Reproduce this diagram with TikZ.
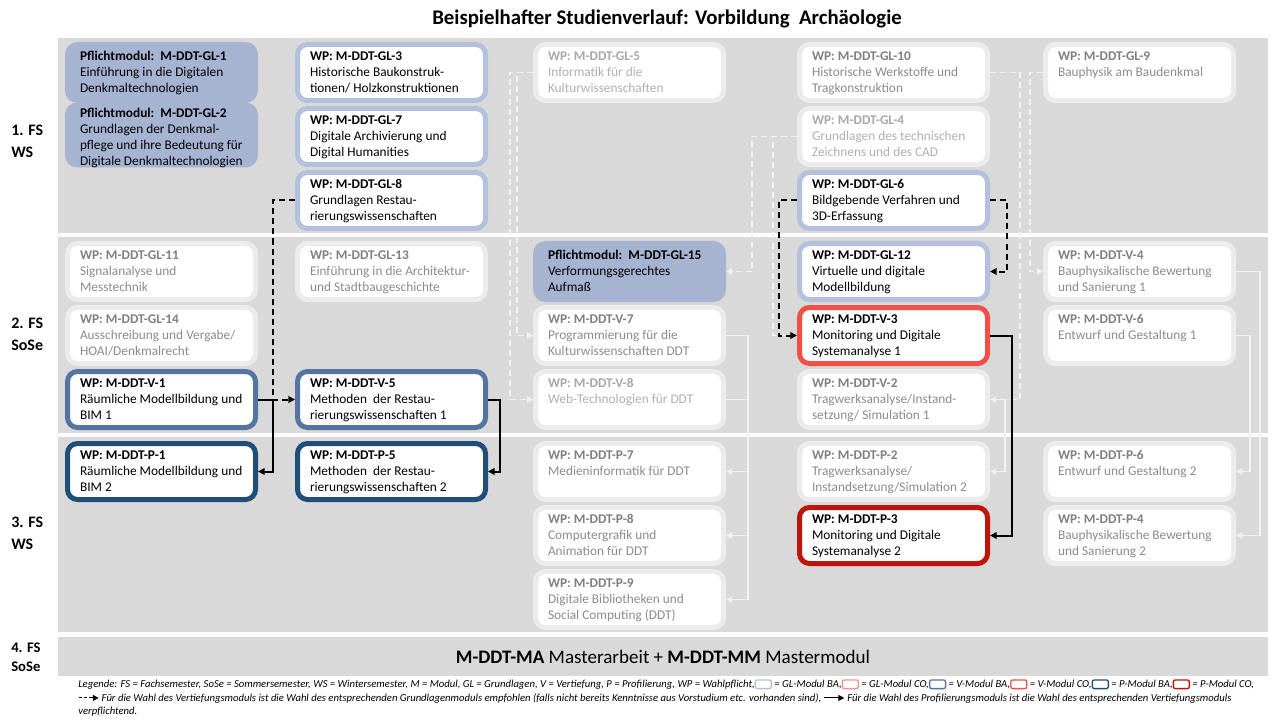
\documentclass[tikz,border=0pt]{standalone}
\usepackage{fontspec}
\setmainfont{Carlito}
\usetikzlibrary{arrows.meta}
\definecolor{bandc}{RGB}{217,217,217}
\definecolor{pflc}{RGB}{166,180,210}
\definecolor{glbac}{RGB}{180,193,220}
\definecolor{glcoc}{RGB}{242,150,140}
\definecolor{vbac}{RGB}{84,116,162}
\definecolor{vcoc}{RGB}{240,80,70}
\definecolor{pbac}{RGB}{31,78,121}
\definecolor{pcoc}{RGB}{190,20,10}
\definecolor{ringc}{RGB}{236,236,236}
\definecolor{fadetitle}{RGB}{128,128,128}
\definecolor{fadebody}{RGB}{140,140,140}
\definecolor{fadeltitle}{RGB}{168,168,168}
\definecolor{fadelbody}{RGB}{176,176,176}
\definecolor{lightc}{RGB}{242,242,242}
\newcommand\mtx[2]{\parbox[c][32.7pt][t]{142.5pt}{\raggedright\rule{0pt}{7.3pt}\textcolor{titlecol}{\textbf{#1}}\\#2}\kern-20.25pt}
\newcommand\mtxfour[2]{\parbox[c][41pt][t]{142.5pt}{\raggedright\rule{0pt}{7.3pt}\textcolor{titlecol}{\textbf{#1}}\\#2}\kern-20.25pt}
\newcommand\legbox[1]{\tikz[baseline=0pt]\draw[#1,line width=1pt,fill=white,rounded corners=1.5pt] (0pt,-0.5pt) rectangle (12pt,6pt);}
\newcommand\legdash{\tikz[baseline=0pt]\draw[line width=0.8pt,dash pattern=on 2.5pt off 1.5pt,-{Triangle[length=4.5pt,width=4.5pt]}] (0pt,2.5pt) -- (15pt,2.5pt);}
\newcommand\legsolid{\tikz[baseline=0pt]\draw[line width=0.8pt,-{Triangle[length=4.5pt,width=4.5pt]}] (0pt,2.5pt) -- (15pt,2.5pt);}
\tikzset{
  mod/.style={rounded corners=7.5pt, line width=3.75pt, minimum width=141pt, minimum height=42pt, inner sep=0pt},
  boxfont/.style={font={\colorlet{titlecol}{black}\fontsize{10pt}{12pt}\selectfont}},
  pfl/.style={mod, draw=pflc, fill=pflc, boxfont, text=black},
  glba/.style={mod, draw=glbac, fill=white, boxfont, text=black},
  vba/.style={mod, draw=vbac, fill=white, boxfont, text=black},
  vco/.style={mod, draw=vcoc, fill=white, boxfont, text=black},
  pba/.style={mod, draw=pbac, fill=white, boxfont, text=black},
  pco/.style={mod, draw=pcoc, fill=white, boxfont, text=black},
  fade/.style={mod, draw=ringc, fill=white, text=fadebody, font={\colorlet{titlecol}{fadetitle}\fontsize{10pt}{12pt}\selectfont}},
  fadel/.style={mod, draw=ringc, fill=white, text=fadelbody, font={\colorlet{titlecol}{fadeltitle}\fontsize{10pt}{12pt}\selectfont}},
  bdash/.style={black, line width=1.5pt, dash pattern=on 4.5pt off 3pt, -{Triangle[length=5pt,width=5pt]}},
  bsolid/.style={black, line width=1.5pt, -{Triangle[length=5pt,width=5pt]}},
  ldash/.style={lightc, line width=1.2pt, dash pattern=on 4.5pt off 3pt, -{Triangle[length=4.5pt,width=4.5pt]}},
  lsolid/.style={lightc, line width=1.2pt, -{Triangle[length=4.5pt,width=4.5pt]}},
  sem/.style={anchor=west, align=left, font=\fontsize{12pt}{16.5pt}\selectfont\bfseries, inner sep=0pt},
}
\begin{document}
\begin{tikzpicture}[x=0.75pt,y=-0.75pt]
\useasboundingbox (0,0) rectangle (1280,720);
\fill[white] (0,0) rectangle (1280,720);
% bands
\fill[bandc] (58,38) rectangle (1268,233);
\fill[bandc] (58,237) rectangle (1268,433);
\fill[bandc] (58,437) rectangle (1268,632);
\fill[bandc] (58,637) rectangle (1268,676);
% title
\node[font=\fontsize{15.6pt}{18pt}\selectfont\bfseries] (title) at (667,19) {Beispielhafter Studienverlauf: Vorbildung\ \ Archäologie};
% semester labels
\node[sem] (s1) at (11,141) {1. FS\\WS};
\node[sem] (s2) at (11,334) {2. FS\\SoSe};
\node[sem] (s3) at (11,533) {3. FS\\WS};
\node[sem, font=\fontsize{11pt}{14pt}\selectfont\bfseries] (s4) at (11,657) {4. FS\\SoSe};
% band 1
\node[pfl] (gl1) at (161.5,72.5) {\mtx{Pflichtmodul:\ \ M-DDT-GL-1}{Einführung in die Digitalen\\Denkmaltechnologien}};
\node[pfl, minimum height=45pt] (gl2) at (161.5,135) {\mtxfour{Pflichtmodul:\ \ M-DDT-GL-2}{Grundlagen der Denkmal-\\pflege und ihre Bedeutung für\\Digitale Denkmaltechnologien}};
\node[glba] (gl3) at (391.5,72.5) {\mtx{WP: M-DDT-GL-3}{Historische Baukonstruk-\\tionen/ Holzkonstruktionen}};
\node[glba] (gl7) at (391.5,136.5) {\mtx{WP: M-DDT-GL-7}{Digitale Archivierung und\\Digital Humanities}};
\node[glba] (gl8) at (391.5,200.5) {\mtx{WP: M-DDT-GL-8}{Grundlagen Restau-\\rierungswissenschaften}};
\node[fadel] (gl5) at (629.5,72.5) {\mtx{WP: M-DDT-GL-5}{Informatik für die\\Kulturwissenschaften}};
\node[fade] (gl10) at (893.5,72.5) {\mtx{WP: M-DDT-GL-10}{Historische Werkstoffe und\\Tragkonstruktion}};
\node[fadel] (gl4) at (893.5,136.5) {\mtx{WP: M-DDT-GL-4}{Grundlagen des technischen\\Zeichnens und des CAD}};
\node[glba] (gl6) at (893.5,200.5) {\mtx{WP: M-DDT-GL-6}{Bildgebende Verfahren und\\3D-Erfassung}};
\node[fade] (gl9) at (1139.5,72.5) {\mtx{WP: M-DDT-GL-9}{Bauphysik am Baudenkmal}};
% band 2
\node[fade] (gl11) at (161.5,271.5) {\mtx{WP: M-DDT-GL-11}{Signalanalyse und\\Messtechnik}};
\node[fade] (gl14) at (161.5,335.5) {\mtx{WP: M-DDT-GL-14}{Ausschreibung und Vergabe/\\HOAI/Denkmalrecht}};
\node[vba] (v1) at (161.5,399.5) {\mtx{WP: M-DDT-V-1}{Räumliche Modellbildung und\\BIM 1}};
\node[fade] (gl13) at (391.5,271.5) {\mtx{WP: M-DDT-GL-13}{Einführung in die Architektur-\\und Stadtbaugeschichte}};
\node[vba] (v5) at (391.5,399.5) {\mtx{WP: M-DDT-V-5}{Methoden\ \ der Restau-\\rierungswissenschaften 1}};
\node[pfl] (gl15) at (629.5,271.5) {\mtx{Pflichtmodul:\ \ M-DDT-GL-15}{Verformungsgerechtes\\Aufmaß}};
\node[fade] (v7) at (629.5,335.5) {\mtx{WP: M-DDT-V-7}{Programmierung für die\\Kulturwissenschaften DDT}};
\node[fadel] (v8) at (629.5,399.5) {\mtx{WP: M-DDT-V-8}{Web-Technologien für DDT}};
\node[glba] (gl12) at (893.5,271.5) {\mtx{WP: M-DDT-GL-12}{Virtuelle und digitale\\Modellbildung}};
\node[vco] (v3) at (893.5,335.5) {\mtx{WP: M-DDT-V-3}{Monitoring und Digitale\\Systemanalyse 1}};
\node[fade] (v2) at (893.5,399.5) {\mtx{WP: M-DDT-V-2}{Tragwerksanalyse/Instand-\\setzung/ Simulation 1}};
\node[fade] (v4) at (1139.5,271.5) {\mtx{WP: M-DDT-V-4}{Bauphysikalische Bewertung\\und Sanierung 1}};
\node[fade] (v6) at (1139.5,335.5) {\mtx{WP: M-DDT-V-6}{Entwurf und Gestaltung 1}};
% band 3
\node[pba] (p1) at (161.5,471.5) {\mtx{WP: M-DDT-P-1}{Räumliche Modellbildung und\\BIM 2}};
\node[pba] (p5) at (391.5,471.5) {\mtx{WP: M-DDT-P-5}{Methoden\ \ der Restau-\\rierungswissenschaften 2}};
\node[fade] (p7) at (629.5,471.5) {\mtx{WP: M-DDT-P-7}{Medieninformatik für DDT}};
\node[fade] (p8) at (629.5,535.5) {\mtx{WP: M-DDT-P-8}{Computergrafik und\\Animation für DDT}};
\node[fade] (p9) at (629.5,599.5) {\mtx{WP: M-DDT-P-9}{Digitale Bibliotheken und\\Social Computing (DDT)}};
\node[fade] (p2) at (893.5,471.5) {\mtx{WP: M-DDT-P-2}{Tragwerksanalyse/\\Instandsetzung/Simulation 2}};
\node[pco] (p3) at (893.5,535.5) {\mtx{WP: M-DDT-P-3}{Monitoring und Digitale\\Systemanalyse 2}};
\node[fade] (p6) at (1139.5,471.5) {\mtx{WP: M-DDT-P-6}{Entwurf und Gestaltung 2}};
\node[fade] (p4) at (1139.5,535.5) {\mtx{WP: M-DDT-P-4}{Bauphysikalische Bewertung\\und Sanierung 2}};
% band 4
\node[font=\fontsize{14.3pt}{17pt}\selectfont] (ma) at (663,657) {\textbf{M-DDT-MA} Masterarbeit + \textbf{M-DDT-MM} Mastermodul};
% light connectors
\draw[ldash] (gl5.west) -- ++(-16,0) |- (v7.west);
\draw[ldash] (gl5.west) -- ++(-23,0) |- (v8.west);
\draw[ldash] (gl4.west) -- ++(-45,0) |- (gl15.east);
\draw[ldash] (gl4.west) -- ++(-24,0) |- (v3.west);
\draw[ldash] (gl10.east) -- ++(30,0) |- (v2.east);
\draw[ldash] (gl9.west) -- ++(-13,0) |- (v4.west);
\draw[lsolid] (v7.east) -- ++(22,0) |- (p7.east);
\draw[lsolid] (v7.east) -- ++(22,0) |- (p8.east);
\draw[lsolid] (v7.east) -- ++(22,0) |- (p9.east);
\draw[lsolid] (v8.east) -- ++(22,0) |- (p8.east);
\draw[lsolid] (v2.east) -- ++(15,0) |- (p2.east);
\draw[lsolid] (v6.east) -- ++(14,0) |- (p6.east);
\draw[lsolid] (v4.east) -- ++(24,0) |- (p4.east);
% black connectors
\draw[bdash] (gl8.west) -- ++(-22,0) |- (v5.west);
\draw[bdash] (gl6.west) -- ++(-18,0) |- (v3.west);
\draw[bdash] (gl6.east) -- ++(17,0) |- (gl12.east);
\draw[bsolid] (v1.east) -- ++(15,0) |- (p1.east);
\draw[bsolid] (v5.east) -- ++(12,0) |- (p5.east);
\draw[bsolid] (v3.east) -- ++(22,0) |- (p3.east);
% legend
\node[anchor=north west, align=left, inner sep=0pt, font=\fontsize{8pt}{10pt}\selectfont\itshape] (leg) at (78,679) {Legende: FS = Fachsemester, SoSe = Sommersemester, WS = Wintersemester, M = Modul, GL = Grundlagen, V = Vertiefung, P = Profilierung, WP = Wahlpflicht,\legbox{glbac} = GL-Modul BA,\legbox{glcoc} = GL-Modul CO,\legbox{vbac} = V-Modul BA,\legbox{vcoc} = V-Modul CO,\legbox{pbac} = P-Modul BA,\legbox{pcoc} = P-Modul CO,\\
\legdash{} Für die Wahl des Vertiefungsmoduls ist die Wahl des entsprechenden Grundlagenmoduls empfohlen (falls nicht bereits Kenntnisse aus Vorstudium etc. vorhanden sind),\ \legsolid{} Für die Wahl des Profilierungsmoduls ist die Wahl des entsprechenden Vertiefungsmoduls\\
verpflichtend.};
\end{tikzpicture}
\end{document}
